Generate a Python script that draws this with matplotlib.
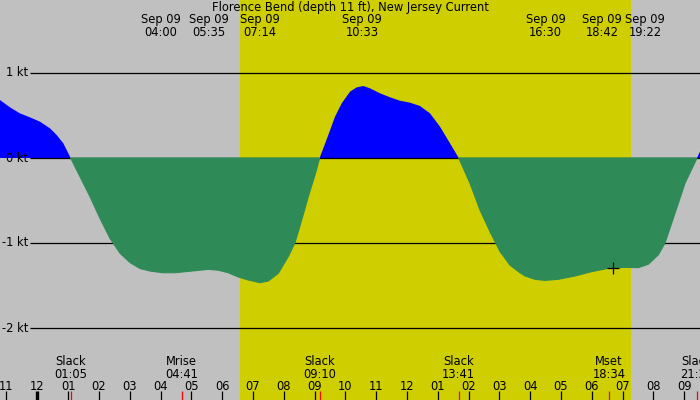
import numpy as np
import matplotlib
matplotlib.use("Agg")
import matplotlib.pyplot as plt

# current speed (kt), time in hours from midnight Sep 09
times_h = [-1.211, -0.886, -0.562, -0.237, 0.088, 0.412, 0.630, 0.844, 1.083,
           1.386, 1.711, 2.036, 2.360, 2.685, 3.010, 3.334, 3.659, 4.091, 4.471,
           5.013, 5.552, 5.877, 6.201, 6.526, 6.851, 7.231, 7.500, 7.825, 8.149,
           8.367, 8.584, 8.799, 9.016, 9.167,
           9.448, 9.666, 9.883, 10.153, 10.370, 10.584, 10.802, 11.127, 11.451,
           11.776, 12.101, 12.425, 12.750, 13.075, 13.399, 13.683,
           14.049, 14.373, 14.698, 15.023, 15.347, 15.672, 15.834, 16.159, 16.484,
           16.916, 17.458, 17.999, 18.539, 19.081, 19.513, 19.838, 20.162, 20.380,
           20.705, 21.029, 21.42, 21.516]
speed_kt = [0.682, 0.596, 0.525, 0.478, 0.427, 0.349, 0.27, 0.173, 0.0,
            -0.22, -0.455, -0.71, -0.945, -1.12, -1.23, -1.30, -1.33, -1.35, -1.35,
            -1.33, -1.31, -1.32, -1.35, -1.40, -1.435, -1.467, -1.447, -1.357, -1.16,
            -0.996, -0.73, -0.455, -0.2, 0.0,
            0.27, 0.486, 0.643, 0.78, 0.831, 0.847, 0.82, 0.761, 0.714,
            0.674, 0.651, 0.612, 0.525, 0.368, 0.173, 0.0,
            -0.298, -0.612, -0.867, -1.10, -1.26, -1.35, -1.388, -1.427, -1.44,
            -1.427, -1.388, -1.337, -1.298, -1.286, -1.29, -1.25, -1.14, -1.0,
            -0.65, -0.298, 0.0, 0.075]

sun_up = 6.58
sun_down = 19.28

top_times = ["04:00", "05:35", "07:14", "10:33", "16:30", "18:42", "19:22"]
top_date = "Sep 09"
bottom_names = ["Slack", "Mrise", "Slack", "Slack", "Mset", "Slack"]
bottom_times = ["01:05", "04:41", "09:10", "13:41", "18:34", "21:25"]
hour_labels = ["11", "12", "01", "02", "03", "04", "05", "06", "07", "08", "09", "10",
               "11", "12", "01", "02", "03", "04", "05", "06", "07", "08", "09"]
hour_ticks = list(range(-1, 22))
kt_levels = [1, 0, -1, -2]
now_h, now_kt = 18.70, -1.29

title = "Florence Bend (depth 11 ft), New Jersey Current"


def hm(s):
    h, m = s.split(":")
    return int(h) + int(m) / 60


plt.rcParams['font.family'] = ['DejaVu Sans']
fs = 8.3

fig = plt.figure(figsize=(7, 4), dpi=100)
ax = fig.add_axes([0, 0, 1, 1])
ax.set_xlim(-1.211, 21.516)
ax.set_ylim((158 - 400) / 85, 158 / 85)
ax.axis("off")
ax.add_patch(plt.Rectangle((0, 0), 1, 1, transform=ax.transAxes, color="#c0c0c0", zorder=-1))

ax.axvspan(sun_up, sun_down, color="#cece00", lw=0, zorder=0)

t = np.array(times_h)
v = np.array(speed_kt)
ax.fill_between(t, v, 0, where=v >= 0, interpolate=True, color="#0000ff", lw=0, zorder=2)

xt = ax.get_yaxis_transform()
ax.hlines(kt_levels, 30 / 700, 1, transform=xt, colors="black", lw=0.9, zorder=2.5)
for k in kt_levels:
    ax.text(28.5 / 700, k, f"{k} kt", transform=xt, ha="right", va="center", fontsize=fs, zorder=4)

ax.fill_between(t, v, 0, where=v <= 0, interpolate=True, facecolor="#2e8b57",
                edgecolor="#2e8b57", lw=0.8, zorder=3)

ax.plot([now_h], [now_kt], marker="+", color="black", ms=9, mew=0.9, zorder=5)

tr = ax.get_xaxis_transform()
ax.text(0.5, 1 - 7.7 / 400, title, transform=ax.transAxes, ha="center", va="center", fontsize=fs)

# spread labels that would overlap
top_pos = [hm(s) for s in top_times]
shift = [0, 0, 0, 0, 0, -0.36, 0.36]
for p, d, s in zip(top_pos, shift, top_times):
    ax.text(p + d, 1 - 19.7 / 400, top_date, transform=tr, ha="center", va="center", fontsize=fs)
    ax.text(p + d, 1 - 32 / 400, s, transform=tr, ha="center", va="center", fontsize=fs)

for n, s in zip(bottom_names, bottom_times):
    p = hm(s)
    ax.text(p, 1 - 361.7 / 400, n, transform=tr, ha="center", va="center", fontsize=fs, zorder=4)
    ax.text(p, 1 - 374.2 / 400, s, transform=tr, ha="center", va="center", fontsize=fs, zorder=4)
    ax.vlines(p, 0, 9 / 400, transform=tr, colors="red", lw=0.9, zorder=4)

for h, lab in zip(hour_ticks, hour_labels):
    ax.vlines(h, 0, 9 / 400, transform=tr, colors="black", lw=2.4 if h == 0 else 0.9, zorder=4)
    ax.text(h, 1 - 386 / 400, lab, transform=tr, ha="center", va="center", fontsize=fs, zorder=4)

fig.savefig("out.png", dpi=100)
